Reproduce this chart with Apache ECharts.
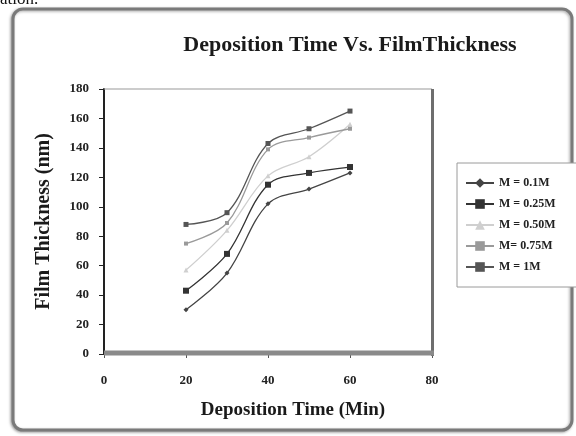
<!DOCTYPE html>
<html>
<head>
<meta charset="utf-8">
<script src="https://cdn.jsdelivr.net/npm/echarts@6/dist/echarts.min.js"></script>
<style>
  html, body { margin: 0; padding: 0; background: #fff; }
  #chart { width: 576px; height: 436px; }
</style>
</head>
<body>
<div id="chart"></div>
<script>
// Deposition time (min) on the x axis
const depositionTimes = [20, 30, 40, 50, 60];

// Film thickness (nm) for each molarity
const seriesNames = ['M = 0.1M', 'M = 0.25M', 'M = 0.50M', 'M= 0.75M', 'M = 1M'];
const thickness01 = [30, 55, 102, 112, 123];
const thickness025 = [43, 68, 115, 123, 127];
const thickness050 = [57, 84, 121, 134, 156];
const thickness075 = [75, 89, 139, 147, 153];
const thickness1 = [88, 96, 143, 153, 165];

const yTicks = [0, 20, 40, 60, 80, 100, 120, 140, 160, 180];
const xTicks = [0, 20, 40, 60, 80];

const allValues = [thickness01, thickness025, thickness050, thickness075, thickness1];
const lineColors = ['#444444', '#333333', '#cfcfcf', '#9a9a9a', '#555555'];
const markers = ['diamond', 'rect', 'triangle', 'rect', 'rect'];
const markerSizes = [5, 6, 5, 4, 5];

const serif = '"Liberation Serif", "DejaVu Serif", serif';

const series = seriesNames.map((name, i) => ({
  name: name,
  type: 'line',
  smooth: 0.35,
  data: depositionTimes.map((t, j) => [t, allValues[i][j]]),
  symbol: markers[i],
  symbolSize: markerSizes[i],
  showSymbol: true,
  lineStyle: { color: lineColors[i], width: 1.3 },
  itemStyle: { color: lineColors[i] },
  z: 5
}));

const chart = echarts.init(document.getElementById('chart'), null, { renderer: 'canvas' });

chart.setOption({
  backgroundColor: '#ffffff',
  animation: false,
  graphic: [
    {
      type: 'text',
      left: 0,
      top: -9,
      style: { text: 'ation.', font: '17px ' + serif, fill: '#111' },
      z: 0
    },
    {
      type: 'rect',
      shape: { x: 13, y: 9, width: 559, height: 421, r: 10 },
      style: {
        fill: '#ffffff', stroke: '#7a7a7a', lineWidth: 3,
        shadowBlur: 3, shadowColor: 'rgba(0,0,0,0.35)', shadowOffsetX: -1, shadowOffsetY: 1
      },
      z: -10
    },
    // plot frame: thin top edge, heavier right wall and floor
    {
      type: 'line',
      shape: { x1: 104, y1: 89, x2: 432, y2: 89 },
      style: { stroke: '#9a9a9a', lineWidth: 1.2 },
      z: 1
    },
    {
      type: 'line',
      shape: { x1: 432.5, y1: 89, x2: 432.5, y2: 356 },
      style: { stroke: '#6e6e6e', lineWidth: 3 },
      z: 1
    },
    {
      type: 'line',
      shape: { x1: 104, y1: 353, x2: 434, y2: 353 },
      style: { stroke: '#8a8a8a', lineWidth: 5 },
      z: 1
    }
  ],
  title: {
    text: 'Deposition Time Vs. FilmThickness',
    left: 345,
    top: 29,
    textAlign: 'center',
    textStyle: { fontFamily: serif, fontWeight: 'bold', fontSize: 22, color: '#1a1a1a' }
  },
  legend: {
    orient: 'vertical',
    left: 457,
    top: 163,
    padding: [14, 30, 14, 8],
    itemGap: 9,
    itemWidth: 28,
    itemHeight: 12,
    borderColor: '#9a9a9a',
    borderWidth: 1,
    backgroundColor: '#ffffff',
    data: seriesNames,
    textStyle: { fontFamily: serif, fontWeight: 'bold', fontSize: 12, color: '#222' }
  },
  grid: { left: 104, right: 144, top: 89, bottom: 82 },
  xAxis: {
    type: 'value',
    min: 0,
    max: 80,
    interval: 20,
    name: 'Deposition Time (Min)',
    nameLocation: 'middle',
    nameGap: 47,
    nameTextStyle: {
      fontFamily: serif, fontWeight: 'bold', fontSize: 19, color: '#1a1a1a',
      padding: [0, 0, 0, 50]
    },
    axisLine: { show: false },
    axisTick: { show: true, inside: false, length: 4, lineStyle: { color: '#555' } },
    axisLabel: {
      margin: 20,
      fontFamily: serif, fontWeight: 'bold', fontSize: 13, color: '#222',
      formatter: v => (xTicks.indexOf(v) >= 0 ? String(v) : '')
    },
    splitLine: { show: false }
  },
  yAxis: {
    type: 'value',
    min: 0,
    max: 180,
    interval: 20,
    name: 'Film Thickness (nm)',
    nameLocation: 'middle',
    nameGap: 50,
    nameRotate: 90,
    nameTextStyle: { fontFamily: serif, fontWeight: 'bold', fontSize: 20, color: '#1a1a1a' },
    axisLine: { show: true, lineStyle: { color: '#222', width: 2 } },
    axisTick: { show: true, inside: false, length: 5, lineStyle: { color: '#222' } },
    axisLabel: {
      margin: 15,
      fontFamily: serif, fontWeight: 'bold', fontSize: 13, color: '#222',
      formatter: v => (yTicks.indexOf(v) >= 0 ? String(v) : '')
    },
    splitLine: { show: false }
  },
  series: series
});
</script>
</body>
</html>
